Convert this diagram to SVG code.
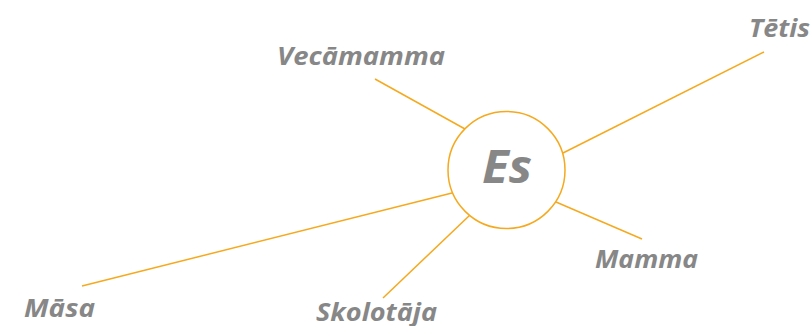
<svg xmlns="http://www.w3.org/2000/svg" width="811" height="326" viewBox="0 0 811 326">
  <style>
    .link { stroke: #F5A91E; stroke-width: 1.5; fill: none; }
    .hub { stroke: #F5A91E; stroke-width: 1.5; fill: #ffffff; }
    .label { font-family: "Open Sans", Lato, "Liberation Sans", sans-serif; font-weight: 700; font-style: italic; fill: #878787; font-size: 25px; }
    .center { font-size: 46px; }
  </style>
  <rect width="811" height="326" fill="#ffffff"/>
  <g id="connectors">
    <line class="link" x1="375" y1="79" x2="465" y2="129"/>
    <line class="link" x1="764" y1="52" x2="563" y2="153"/>
    <line class="link" x1="82" y1="286" x2="452" y2="193"/>
    <line class="link" x1="383" y1="298" x2="470" y2="215"/>
    <line class="link" x1="642" y1="239" x2="556" y2="202"/>
  </g>
  <g id="node-es">
    <circle class="hub" cx="506.5" cy="170" r="58.5"/>
    <text class="label center" x="482" y="183" textLength="50" lengthAdjust="spacingAndGlyphs">Es</text>
  </g>
  <g id="node-vecamamma">
    <text class="label" x="277" y="65" textLength="168" lengthAdjust="spacingAndGlyphs">Vecāmamma</text>
  </g>
  <g id="node-tetis">
    <text class="label" x="749" y="37" textLength="61" lengthAdjust="spacingAndGlyphs">Tētis</text>
  </g>
  <g id="node-masa">
    <text class="label" x="24" y="317" textLength="71" lengthAdjust="spacingAndGlyphs">Māsa</text>
  </g>
  <g id="node-skolotaja">
    <text class="label" x="316" y="321" textLength="121" lengthAdjust="spacingAndGlyphs">Skolotāja</text>
  </g>
  <g id="node-mamma">
    <text class="label" x="595" y="268" textLength="103" lengthAdjust="spacingAndGlyphs">Mamma</text>
  </g>
</svg>
